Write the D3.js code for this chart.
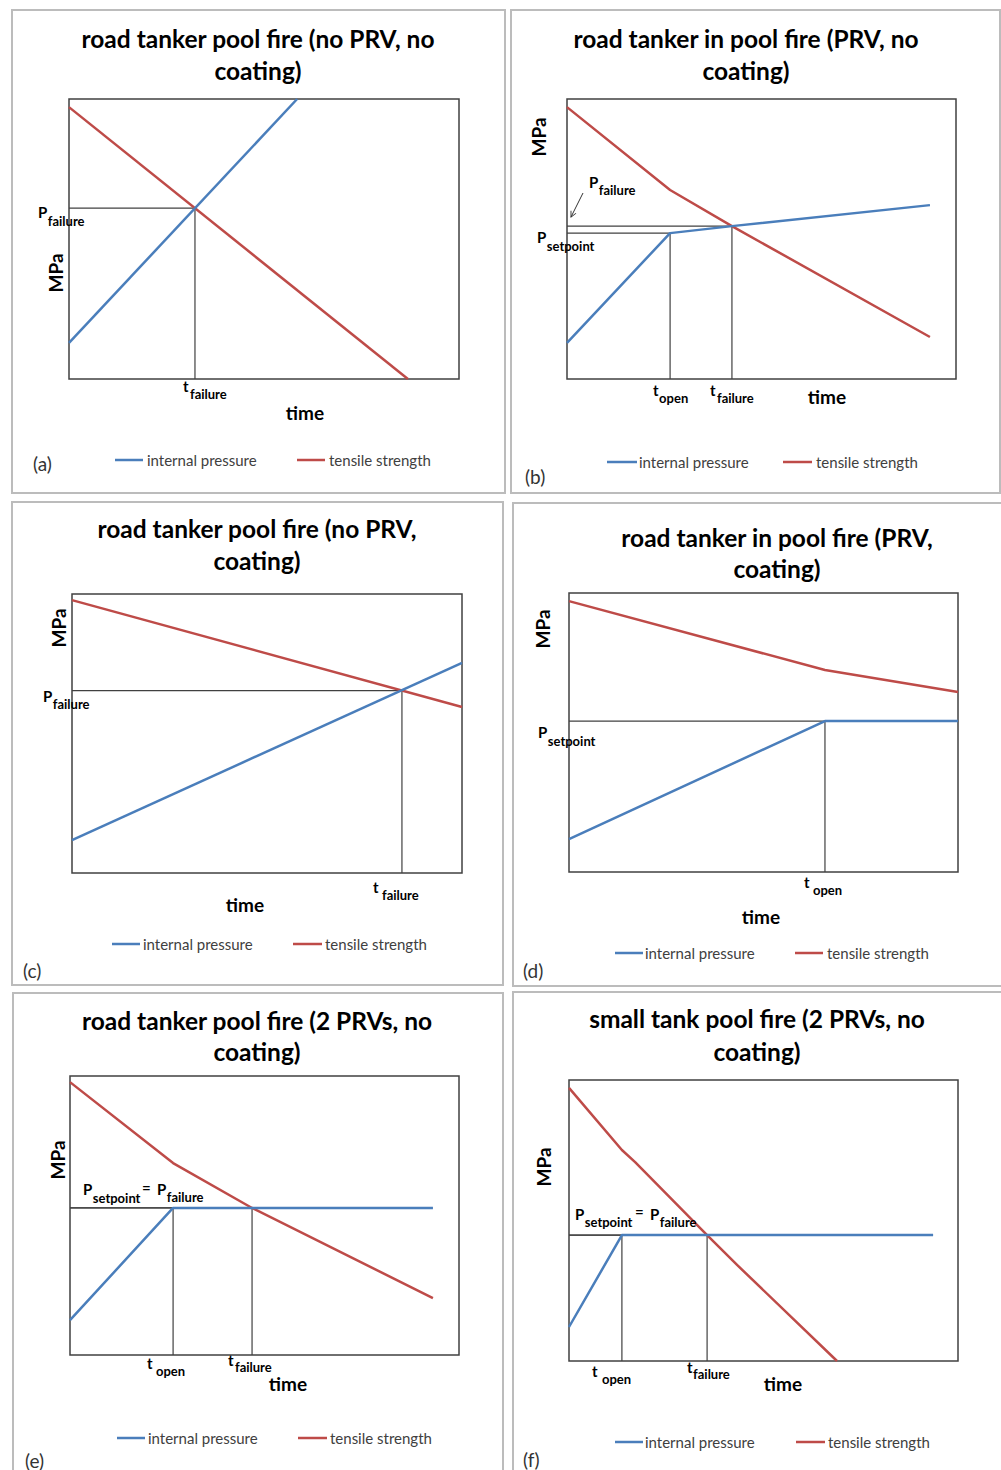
<!DOCTYPE html>
<html>
<head>
<meta charset="utf-8">
<script src="https://cdn.jsdelivr.net/npm/d3@7"></script>
<style>
  html, body { margin: 0; padding: 0; background: #ffffff; }
  svg { display: block; }
  text { font-family: Lato, "Open Sans", "Liberation Sans", sans-serif; }
</style>
</head>
<body>
<svg id="chart" width="1001" height="1470"></svg>
<script>
// ---------------- DATA (normalised 0..100 time / pressure units) ----------------
const panelIds = ["(a)", "(b)", "(c)", "(d)", "(e)", "(f)"];
const titleLines = [
  ["road tanker pool fire (no PRV, no", "coating)"],
  ["road tanker in pool fire (PRV, no", "coating)"],
  ["road tanker pool fire (no PRV,", "coating)"],
  ["road tanker in pool fire (PRV,", "coating)"],
  ["road tanker pool fire (2 PRVs, no", "coating)"],
  ["small tank pool fire (2 PRVs, no", "coating)"]
];
const seriesNames = ["internal pressure", "tensile strength"];
const xAxisLabel = "time";
const yAxisLabel = "MPa";

// internal pressure [time, value]
const pressureA = [[0, 12.9], [58.5, 100]];
const pressureB = [[0, 12.9], [26.5, 52.1], [42.4, 54.6], [93.3, 62.1]];
const pressureC = [[0, 11.8], [100, 75.3]];
const pressureD = [[0, 11.8], [65.8, 54.1], [100, 54.1]];
const pressureE = [[0, 12.5], [26.5, 52.7], [93.3, 52.7]];
const pressureF = [[0, 12.1], [13.6, 44.8], [93.6, 44.8]];

// tensile strength [time, value]
const strengthA = [[0, 97.1], [86.9, 0]];
const strengthB = [[0, 97.1], [26.5, 67.5], [42.4, 54.6], [93.3, 15.0]];
const strengthC = [[0, 97.8], [100, 59.5]];
const strengthD = [[0, 97.1], [65.8, 72.4], [100, 64.5]];
const strengthE = [[0, 97.8], [26.5, 68.8], [46.8, 52.7], [93.3, 20.4]];
const strengthF = [[0, 97.2], [13.6, 75.1], [17.0, 70.8], [35.5, 44.8], [43.2, 34.2], [68.9, 0]];

// marker values (null = not shown)
const tOpen     = [null, 26.5, null, 65.8, 26.5, 13.6];
const tFailure  = [32.3, 42.4, 84.6, null, 46.8, 35.5];
const pSetpoint = [null, 52.1, null, 54.1, 52.7, 44.8];
const pFailure  = [61.0, 54.6, 65.4, null, 52.7, 44.8];

const pressureSeries = [pressureA, pressureB, pressureC, pressureD, pressureE, pressureF];
const strengthSeries = [strengthA, strengthB, strengthC, strengthD, strengthE, strengthF];

// ---------------- LAYOUT ----------------
const layout = [
  { frame: [12, 10, 505, 493], plot: [69, 99, 459, 379], title: [258, 38, 70], mpa: [55, 273], time: [305, 412],
    legend: { y: 460, b: [115, 143, 147], r: [297, 325, 329] }, id: [33, 463],
    pLabels: [{ parts: [["P", 38, 218], ["failure", 47, 226]] }],
    tLabels: [{ parts: [["t", 183, 392], ["failure", 190, 399]] }] },
  { frame: [511, 10, 1000, 493], plot: [567, 99, 956, 379], title: [746, 38, 70], mpa: [538, 137], time: [827, 396],
    legend: { y: 462, b: [607, 637, 639], r: [783, 812, 816] }, id: [525, 476],
    pLabels: [{ parts: [["P", 589, 188], ["failure", 597, 195]] }, { parts: [["P", 537, 243], ["setpoint", 542, 251]] }],
    arrow: [583, 193, 571, 217],
    tLabels: [{ parts: [["t", 653, 396], ["open", 659, 403]] }, { parts: [["t", 710, 396], ["failure", 717, 403]] }] },
  { frame: [12, 502, 503, 985], plot: [72, 594, 462, 873], title: [257, 528, 560], mpa: [58, 628], time: [245, 904],
    legend: { y: 944, b: [112, 140, 143], r: [293, 322, 325] }, id: [23, 970],
    pLabels: [{ parts: [["P", 43, 702], ["failure", 51, 709]] }],
    tLabels: [{ parts: [["t", 373, 893], ["failure", 382, 900]] }] },
  { frame: [513, 503, 1010, 986], plot: [569, 593, 958, 872], title: [777, 537, 568], mpa: [542, 629], time: [761, 916],
    legend: { y: 953, b: [615, 643, 645], r: [795, 823, 827] }, id: [523, 970],
    pLabels: [{ parts: [["P", 538, 738], ["setpoint", 544, 746]] }],
    tLabels: [{ parts: [["t", 804, 888], ["open", 813, 895]] }] },
  { frame: [13, 993, 503, 1480], plot: [70, 1076, 459, 1355], title: [257, 1020, 1051], mpa: [57, 1160], time: [288, 1383],
    legend: { y: 1438, b: [117, 145, 148], r: [298, 327, 330] }, id: [25, 1460],
    pLabels: [{ parts: [["P", 83, 1195], ["setpoint", 89, 1203], ["=", 142, 1193], ["P", 157, 1195], ["failure", 163, 1202]] }],
    tLabels: [{ parts: [["t", 147, 1369], ["open", 156, 1376]] }, { parts: [["t", 228, 1366], ["failure", 235, 1372]] }] },
  { frame: [513, 992, 1010, 1480], plot: [569, 1080, 958, 1361], title: [757, 1018, 1051], mpa: [543, 1167], time: [783, 1383],
    legend: { y: 1442, b: [615, 643, 645], r: [796, 825, 828] }, id: [523, 1459],
    pLabels: [{ parts: [["P", 575, 1220], ["setpoint", 581, 1227], ["=", 635, 1217], ["P", 650, 1220], ["failure", 656, 1227]] }],
    tLabels: [{ parts: [["t", 592, 1377], ["open", 602, 1384]] }, { parts: [["t", 687, 1373], ["failure", 693, 1379]] }] }
];

const BLUE = "#4a7ebb", RED = "#be4b48", DARK = "#404040";

const svg = d3.select("#chart");
svg.append("rect").attr("width", 1001).attr("height", 1470).attr("fill", "#fff");

const defs = svg.append("defs");
defs.append("marker").attr("id", "arrowhead").attr("viewBox", "0 0 10 10")
  .attr("refX", 9).attr("refY", 5).attr("markerWidth", 7).attr("markerHeight", 7)
  .attr("orient", "auto")
  .append("path").attr("d", "M1,1 L9,5 L1,9").attr("fill", "none").attr("stroke", "#333").attr("stroke-width", 1.3);

layout.forEach((L, i) => {
  const g = svg.append("g");
  const [fx0, fy0, fx1, fy1] = L.frame;
  g.append("rect").attr("x", fx0).attr("y", fy0).attr("width", fx1 - fx0).attr("height", fy1 - fy0)
    .attr("fill", "none").attr("stroke", "#bcbcbc").attr("stroke-width", 2);

  const [px0, py0, px1, py1] = L.plot;
  const x = d3.scaleLinear().domain([0, 100]).range([px0, px1]);
  const y = d3.scaleLinear().domain([0, 100]).range([py1, py0]);

  // title
  L.title.slice(1).forEach((ty, k) => {
    g.append("text").attr("x", L.title[0]).attr("y", ty).attr("text-anchor", "middle")
      .attr("dominant-baseline", "central").attr("font-size", 24.5).attr("font-weight", 700)
      .attr("fill", "#000").text(titleLines[i][k]);
  });

  // plot frame
  g.append("rect").attr("x", px0).attr("y", py0).attr("width", px1 - px0).attr("height", py1 - py0)
    .attr("fill", "none").attr("stroke", DARK).attr("stroke-width", 1.5);

  // reference lines
  const ref = g.append("g").attr("stroke", DARK).attr("stroke-width", 1.2).attr("fill", "none");
  const seg = (a, b) => ref.append("line").attr("x1", x(a[0])).attr("y1", y(a[1])).attr("x2", x(b[0])).attr("y2", y(b[1]));
  if (pFailure[i] != null && tFailure[i] != null) {
    seg([0, pFailure[i]], [tFailure[i], pFailure[i]]);
    seg([tFailure[i], pFailure[i]], [tFailure[i], 0]);
  }
  if (pSetpoint[i] != null && tOpen[i] != null) {
    seg([0, pSetpoint[i]], [tOpen[i], pSetpoint[i]]);
    seg([tOpen[i], pSetpoint[i]], [tOpen[i], 0]);
  }

  // series
  const line = d3.line().x(d => x(d[0])).y(d => y(d[1]));
  g.append("path").datum(strengthSeries[i]).attr("d", line).attr("fill", "none")
    .attr("stroke", RED).attr("stroke-width", 2.5).attr("stroke-linejoin", "round");
  g.append("path").datum(pressureSeries[i]).attr("d", line).attr("fill", "none")
    .attr("stroke", BLUE).attr("stroke-width", 2.5).attr("stroke-linejoin", "round");

  // axis labels
  g.append("text").attr("transform", `translate(${L.mpa[0]},${L.mpa[1]}) rotate(-90)`)
    .attr("text-anchor", "middle").attr("dominant-baseline", "central")
    .attr("font-size", 19).attr("font-weight", 700).attr("fill", "#000").text(yAxisLabel);
  g.append("text").attr("x", L.time[0]).attr("y", L.time[1]).attr("text-anchor", "middle")
    .attr("dominant-baseline", "central").attr("font-size", 19).attr("font-weight", 700)
    .attr("fill", "#000").text(xAxisLabel);

  // annotation labels (subscript placed just after preceding glyph to avoid overlap)
  const drawParts = (lab) => {
    let prevEnd = -Infinity;
    lab.parts.forEach(([txt, tx, ty]) => {
      const big = (txt === "P" || txt === "t" || txt === "=");
      const xx = Math.max(tx, prevEnd + 0.5);
      const t = g.append("text").attr("x", xx).attr("y", ty)
        .attr("font-size", big ? 15 : 13).attr("font-weight", 700).attr("fill", "#000").text(txt);
      prevEnd = xx + t.node().getComputedTextLength();
    });
  };
  L.pLabels.forEach(drawParts);
  L.tLabels.forEach(drawParts);
  if (L.arrow) {
    g.append("line").attr("x1", L.arrow[0]).attr("y1", L.arrow[1]).attr("x2", L.arrow[2]).attr("y2", L.arrow[3])
      .attr("stroke", "#333").attr("stroke-width", 1).attr("marker-end", "url(#arrowhead)");
  }

  // legend
  const lg = L.legend;
  [[lg.b, BLUE, seriesNames[0]], [lg.r, RED, seriesNames[1]]].forEach(([p, c, name]) => {
    g.append("line").attr("x1", p[0]).attr("x2", p[1]).attr("y1", lg.y).attr("y2", lg.y)
      .attr("stroke", c).attr("stroke-width", 2.5);
    g.append("text").attr("x", p[2]).attr("y", lg.y).attr("dominant-baseline", "central")
      .attr("font-size", 15).attr("fill", "#404040").text(name);
  });

  // panel id
  g.append("text").attr("x", L.id[0]).attr("y", L.id[1]).attr("dominant-baseline", "central")
    .attr("font-size", 19).attr("fill", "#333").text(panelIds[i]);
});
</script>
</body>
</html>
